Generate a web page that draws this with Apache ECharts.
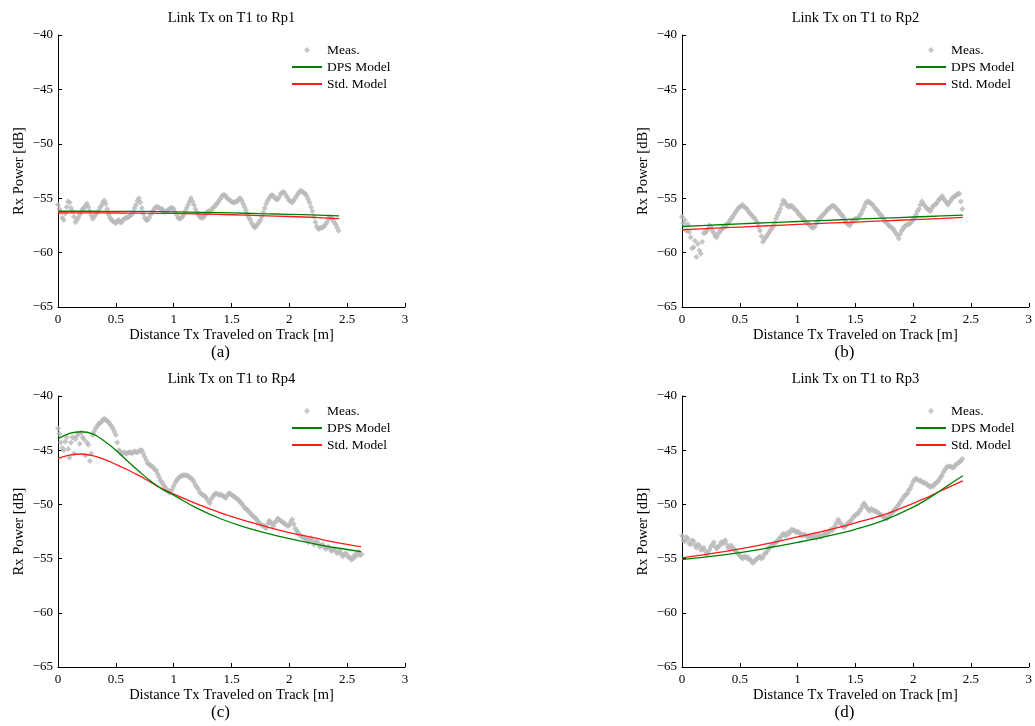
<!DOCTYPE html>
<html>
<head>
<meta charset="utf-8">
<script src="https://cdn.jsdelivr.net/npm/echarts@6/dist/echarts.min.js"></script>
<style>
html,body{margin:0;padding:0;background:#fff;}
#chart{width:1035px;height:726px;}
</style>
</head>
<body>
<div id="chart"></div>
<script>
// ---------------- DATA ----------------
const plotTitles = ['Link Tx on T1 to Rp1', 'Link Tx on T1 to Rp2', 'Link Tx on T1 to Rp4', 'Link Tx on T1 to Rp3'];
const captions = ['(a)', '(b)', '(c)', '(d)'];
const seriesNames = ['Meas.', 'DPS Model', 'Std. Model'];
const xAxisName = 'Distance Tx Traveled on Track [m]';
const yAxisName = 'Rx Power [dB]';
const xTickMin = 0, xTickMax = 3, xTickStep = 0.5;
const yTickMin = -65, yTickMax = -40, yTickStep = 5;

// measurement sample spacing along the track [m]; "Mid" arrays are the samples in between
const measStep = 0.025;

// (a) Rp1
const measA = [-55.6,-56.3,-57.0,-55.8,-55.4,-56.2,-57.2,-56.8,-56.3,-55.9,
  -55.5,-56.2,-56.9,-56.5,-56.2,-55.7,-55.2,-56.0,-56.8,-57.1,
  -57.3,-57.0,-57.2,-56.9,-56.8,-56.6,-56.3,-55.6,-55.0,-55.9,
  -56.8,-57.0,-56.5,-56.1,-55.8,-55.9,-56.0,-56.3,-56.1,-55.9,
  -56.0,-56.5,-56.9,-56.7,-56.2,-55.6,-55.0,-55.6,-56.3,-56.7,
  -56.8,-56.5,-56.2,-56.1,-55.8,-55.5,-55.1,-54.7,-54.8,-55.1,
  -55.3,-55.4,-55.3,-55.0,-55.5,-56.1,-56.8,-57.3,-57.7,-57.4,
  -57.0,-56.3,-55.5,-55.0,-54.7,-55.0,-55.1,-54.6,-54.4,-54.8,
  -55.2,-55.4,-55.0,-54.6,-54.3,-54.5,-54.8,-55.4,-56.2,-57.2,
  -57.8,-57.7,-57.6,-57.2,-56.7,-57.0,-57.4,-58.0];
const measAMid = [-56.0,-56.8,-56.4,-55.3,-55.9,-56.7,-57.0,-56.5,-56.0,-55.7,
  -55.8,-56.6,-56.7,-56.3,-55.9,-55.4,-55.5,-56.5,-57.0,-57.2,
  -57.1,-57.2,-57.0,-56.8,-56.7,-56.5,-55.9,-55.2,-55.4,-56.4,
  -57.0,-56.8,-56.3,-55.9,-55.8,-56.0,-56.2,-56.2,-56.0,-55.9,
  -56.3,-56.8,-56.8,-56.5,-55.9,-55.3,-55.3,-56.0,-56.5,-56.8,
  -56.7,-56.3,-56.2,-55.9,-55.6,-55.3,-54.9,-54.7,-55.0,-55.2,
  -55.4,-55.3,-55.1,-55.2,-55.8,-56.5,-57.0,-57.5,-57.6,-57.2,
  -56.7,-55.9,-55.2,-54.8,-54.8,-55.1,-54.9,-54.5,-54.6,-55.0,
  -55.3,-55.2,-54.8,-54.4,-54.4,-54.6,-55.1,-55.8,-56.7,-57.6,
  -57.8,-57.7,-57.4,-56.9,-56.8,-57.2,-57.7];
const modelXA = [0, 0.25, 0.5, 0.75, 1.0, 1.25, 1.5, 1.75, 2.0, 2.25, 2.43];
const dpsA = [-56.20,-56.20,-56.21,-56.22,-56.25,-56.30,-56.35,-56.42,-56.48,-56.55,-56.62];
const stdA = [-56.35,-56.35,-56.36,-56.38,-56.40,-56.45,-56.52,-56.60,-56.68,-56.78,-56.88];

// (b) Rp2
const measB = [-56.7,-57.0,-57.4,-58.6,-59.5,-60.4,-59.8,-59.0,-58.2,-57.8,
  -57.6,-58.2,-58.6,-58.1,-57.8,-57.6,-57.3,-56.9,-56.5,-56.1,
  -55.8,-55.6,-55.9,-56.2,-56.5,-56.8,-57.2,-58.0,-59.0,-58.6,
  -58.2,-57.8,-57.3,-56.6,-56.0,-55.2,-55.5,-55.8,-55.7,-56.0,
  -56.3,-56.6,-56.9,-57.2,-57.4,-57.7,-57.6,-57.1,-56.8,-56.5,
  -56.2,-55.9,-55.7,-55.8,-56.1,-56.5,-56.8,-57.3,-57.5,-57.1,
  -56.9,-56.8,-56.4,-55.8,-55.3,-55.4,-55.6,-56.0,-56.3,-56.6,
  -57.0,-57.3,-57.6,-57.8,-58.2,-58.7,-58.0,-57.6,-57.4,-57.3,
  -57.0,-56.5,-56.0,-55.3,-55.7,-56.0,-56.2,-55.7,-55.5,-55.1,
  -54.8,-55.2,-55.6,-55.2,-54.9,-54.7,-54.6,-56.0];
const measBMid = [-57.3,-58.0,-58.1,-59.6,-58.9,-59.2,-60.1,-58.2,-58.0,-57.5,
  -58.0,-58.5,-58.3,-57.9,-57.6,-57.4,-57.1,-56.7,-56.3,-55.9,
  -55.7,-55.8,-56.0,-56.4,-56.7,-57.0,-57.6,-58.5,-58.8,-58.4,
  -58.0,-57.6,-56.9,-56.3,-55.6,-55.3,-55.7,-55.7,-55.9,-56.1,
  -56.5,-56.8,-57.1,-57.3,-57.6,-57.7,-57.3,-56.9,-56.6,-56.3,
  -56.0,-55.8,-55.7,-56.0,-56.3,-56.6,-57.1,-57.4,-57.3,-57.0,
  -56.9,-56.6,-56.1,-55.5,-55.3,-55.5,-55.8,-56.1,-56.5,-56.8,
  -57.2,-57.5,-57.7,-58.0,-58.4,-58.3,-57.8,-57.5,-57.4,-57.1,
  -56.8,-56.2,-55.6,-55.5,-55.9,-56.1,-55.9,-55.6,-55.3,-55.0,
  -55.0,-55.4,-55.4,-55.0,-54.8,-54.6,-55.3];
const modelXB = [0, 0.25, 0.5, 0.75, 1.0, 1.25, 1.5, 1.75, 2.0, 2.25, 2.43];
const dpsB = [-57.60,-57.48,-57.36,-57.25,-57.14,-57.03,-56.93,-56.83,-56.73,-56.63,-56.55];
const stdB = [-57.90,-57.77,-57.65,-57.53,-57.41,-57.30,-57.19,-57.08,-56.97,-56.86,-56.76];

// (c) Rp4
const measC = [-43.0,-44.3,-45.0,-43.8,-45.7,-43.8,-44.0,-43.5,-43.4,-44.0,
  -44.3,-46.0,-43.6,-43.0,-42.6,-42.4,-42.1,-42.3,-42.6,-43.0,
  -43.6,-45.0,-45.3,-45.2,-45.3,-45.2,-45.2,-45.2,-45.1,-45.0,
  -45.6,-46.2,-46.4,-46.6,-46.9,-47.5,-48.0,-48.4,-48.7,-48.8,
  -48.3,-47.8,-47.5,-47.3,-47.3,-47.4,-47.6,-47.9,-48.4,-48.9,
  -49.1,-49.3,-49.7,-49.5,-49.1,-49.0,-49.1,-49.2,-49.4,-49.0,
  -49.1,-49.3,-49.5,-49.8,-50.1,-50.4,-50.7,-51.0,-51.2,-51.5,
  -51.8,-52.0,-52.2,-51.5,-51.8,-51.7,-51.3,-51.5,-51.7,-51.9,
  -51.9,-51.4,-52.2,-52.6,-52.9,-53.1,-53.2,-53.3,-53.3,-53.5,
  -53.6,-53.8,-53.9,-54.0,-54.0,-54.2,-54.3,-54.4,-54.6,-54.6,
  -54.7,-54.9,-55.0,-54.8,-54.4,-54.6];
const measCMid = [-43.5,-44.8,-44.2,-44.9,-44.3,-45.3,-43.7,-44.4,-43.8,-45.5,
  -44.5,-45.3,-43.3,-42.8,-42.5,-42.2,-42.2,-42.4,-42.8,-43.3,
  -44.3,-45.1,-45.3,-45.3,-45.2,-45.3,-45.1,-45.2,-45.0,-45.3,
  -45.9,-46.3,-46.5,-46.8,-47.2,-47.8,-48.2,-48.6,-48.9,-48.6,
  -48.0,-47.6,-47.4,-47.3,-47.3,-47.5,-47.7,-48.2,-48.6,-49.0,
  -49.2,-49.5,-49.9,-49.3,-49.0,-49.1,-49.1,-49.3,-49.2,-49.0,
  -49.2,-49.4,-49.6,-49.9,-50.3,-50.5,-50.8,-51.1,-51.3,-51.7,
  -51.9,-52.1,-51.8,-51.6,-52.0,-51.5,-51.4,-51.6,-51.8,-52.0,
  -51.6,-51.8,-52.4,-52.8,-53.0,-53.2,-53.5,-53.1,-53.7,-53.4,
  -53.9,-53.7,-54.1,-53.9,-54.3,-54.1,-54.5,-54.3,-54.8,-54.5,
  -54.9,-55.1,-54.7,-54.5,-54.7];
const modelXC = [0, 0.1, 0.2, 0.3, 0.4, 0.5, 0.6, 0.7, 0.8, 0.9, 1.0, 1.2, 1.4, 1.6, 1.8, 2.0, 2.2, 2.4, 2.62];
const dpsC = [-43.96,-43.45,-43.30,-43.50,-44.15,-45.00,-46.00,-46.95,-47.85,-48.60,-49.15,-50.35,-51.30,-52.05,-52.65,-53.15,-53.60,-54.00,-54.35];
const stdC = [-45.75,-45.45,-45.35,-45.50,-45.85,-46.30,-46.80,-47.35,-47.95,-48.55,-49.05,-49.95,-50.75,-51.45,-52.05,-52.60,-53.05,-53.50,-53.90];

// (d) Rp3
const measD = [-52.9,-53.4,-53.2,-53.7,-53.4,-54.0,-53.8,-54.1,-54.3,-54.5,
  -53.9,-53.5,-54.1,-53.8,-53.6,-53.3,-54.0,-53.8,-54.1,-54.4,
  -54.7,-55.0,-54.8,-54.9,-55.2,-55.3,-55.0,-54.8,-54.9,-54.5,
  -54.1,-53.8,-53.6,-53.4,-53.1,-52.7,-52.9,-52.7,-52.3,-52.4,
  -52.5,-52.7,-52.8,-52.9,-52.9,-53.1,-53.0,-52.9,-53.0,-52.8,
  -52.7,-52.5,-52.4,-52.0,-51.4,-51.8,-52.1,-51.9,-51.6,-51.3,
  -51.0,-50.8,-50.4,-49.9,-50.3,-50.6,-50.5,-50.6,-50.8,-51.0,
  -51.2,-51.3,-50.9,-50.7,-50.4,-50.0,-49.6,-49.2,-49.0,-48.5,
  -47.9,-47.6,-47.8,-47.9,-48.0,-48.2,-48.4,-48.3,-48.0,-47.7,
  -47.3,-46.8,-46.5,-46.5,-46.6,-46.3,-46.1,-45.8];
const measDMid = [-53.3,-53.0,-53.6,-53.3,-53.8,-53.7,-54.2,-54.0,-54.6,-54.2,
  -53.7,-53.9,-53.9,-53.5,-53.4,-53.7,-54.1,-54.0,-54.3,-54.6,
  -54.9,-54.8,-55.0,-55.1,-55.4,-55.1,-54.9,-55.0,-54.6,-54.3,
  -53.9,-53.7,-53.5,-53.2,-52.9,-52.8,-52.6,-52.5,-52.4,-52.6,
  -52.6,-52.9,-52.8,-53.0,-53.0,-52.8,-53.1,-52.8,-52.9,-52.6,
  -52.6,-52.3,-52.2,-51.7,-51.6,-52.0,-52.0,-51.7,-51.5,-51.1,
  -50.9,-50.6,-50.1,-50.1,-50.5,-50.4,-50.6,-50.7,-50.9,-51.1,
  -51.3,-51.1,-50.8,-50.5,-50.2,-49.8,-49.4,-49.1,-48.7,-48.2,
  -47.7,-47.7,-47.8,-48.0,-48.1,-48.3,-48.3,-48.1,-47.9,-47.5,
  -47.0,-46.6,-46.5,-46.6,-46.4,-46.2,-46.0];
const modelXD = [0, 0.25, 0.5, 0.75, 1.0, 1.25, 1.5, 1.75, 2.0, 2.1, 2.2, 2.3, 2.43];
const dpsD = [-55.10,-54.80,-54.45,-54.00,-53.50,-52.95,-52.30,-51.45,-50.25,-49.65,-48.98,-48.25,-47.35];
const stdD = [-54.93,-54.55,-54.10,-53.60,-53.00,-52.40,-51.70,-50.95,-49.90,-49.45,-48.95,-48.45,-47.83];

// ---------------- CHART ----------------
const panels = [
  {meas: measA, mid: measAMid, mx: modelXA, dps: dpsA, std: stdA},
  {meas: measB, mid: measBMid, mx: modelXB, dps: dpsB, std: stdB},
  {meas: measC, mid: measCMid, mx: modelXC, dps: dpsC, std: stdC},
  {meas: measD, mid: measDMid, mx: modelXD, dps: dpsD, std: stdD}
];
const FONT = '"Liberation Serif", "Times New Roman", serif';
const GRAY = '#b8b8b8', GREEN = '#008000', RED = '#ff1a1a';
const gridBoxes = [
  {left: 58, top: 35, width: 347, height: 272},
  {left: 682, top: 35, width: 347, height: 272},
  {left: 58, top: 396, width: 347, height: 271},
  {left: 682, top: 396, width: 347, height: 271}
];
const minus = v => String(v).replace('-', '\u2212');
// diamond centred inside a 30x6 box (invisible end points keep the box wide)
const diamondIcon = 'path://M0,3L0,3M30,3L30,3M12,3L15,0L18,3L15,6Z';

const option = {
  animation: false,
  backgroundColor: '#fff',
  textStyle: {fontFamily: FONT},
  grid: gridBoxes.map(g => Object.assign({containLabel: false}, g)),
  title: [],
  legend: [],
  xAxis: [],
  yAxis: [],
  series: []
};

gridBoxes.forEach((g, i) => {
  const p = panels[i];
  option.title.push({
    text: plotTitles[i], left: g.left + g.width / 2, top: g.top - 24.5, textAlign: 'center', padding: 0,
    textStyle: {fontFamily: FONT, fontSize: 14.5, fontWeight: 'normal', color: '#000'}
  });
  option.title.push({
    text: captions[i], left: g.left + g.width / 2 - 11, top: g.top + g.height + 37, textAlign: 'center', padding: 0,
    textStyle: {fontFamily: FONT, fontSize: 17, fontWeight: 'normal', color: '#000'}
  });
  option.legend.push({
    orient: 'vertical', left: g.left + 233, top: g.top + 8,
    itemWidth: 30, itemHeight: 6, itemGap: 3, padding: 0,
    selectedMode: false, symbolKeepAspect: true,
    textStyle: {fontFamily: FONT, fontSize: 13.5, color: '#000'},
    data: [
      {name: seriesNames[0], icon: diamondIcon, itemStyle: {color: GRAY}},
      {name: seriesNames[1], itemStyle: {color: 'rgba(0,0,0,0)', borderWidth: 0}},
      {name: seriesNames[2], itemStyle: {color: 'rgba(0,0,0,0)', borderWidth: 0}}
    ]
  });
  option.xAxis.push({
    type: 'value', gridIndex: i, min: xTickMin, max: xTickMax, interval: xTickStep,
    name: xAxisName, nameLocation: 'middle', nameGap: 21,
    nameTextStyle: {fontFamily: FONT, fontSize: 14.5, color: '#000'},
    axisLine: {show: true, onZero: false, lineStyle: {color: '#000', width: 1}},
    axisTick: {show: true, inside: true, length: 4, lineStyle: {color: '#000'}},
    axisLabel: {fontFamily: FONT, fontSize: 13, color: '#000', margin: 6},
    splitLine: {show: false}
  });
  option.yAxis.push({
    type: 'value', gridIndex: i, min: yTickMin, max: yTickMax, interval: yTickStep,
    name: yAxisName, nameLocation: 'middle', nameGap: 31,
    nameTextStyle: {fontFamily: FONT, fontSize: 14.5, color: '#000'},
    axisLine: {show: true, onZero: false, lineStyle: {color: '#000', width: 1}},
    axisTick: {show: true, inside: true, length: 4, lineStyle: {color: '#000'}},
    axisLabel: {fontFamily: FONT, fontSize: 13, color: '#000', margin: 5, formatter: minus},
    splitLine: {show: false}
  });
  const pts = p.meas.map((v, k) => [k * measStep, v])
    .concat(p.mid.map((v, k) => [(k + 0.5) * measStep, v]));
  option.series.push({
    name: seriesNames[0], type: 'scatter', xAxisIndex: i, yAxisIndex: i,
    symbol: 'diamond', symbolSize: 6, itemStyle: {color: GRAY}, z: 2,
    data: pts
  });
  option.series.push({
    name: seriesNames[1], type: 'line', xAxisIndex: i, yAxisIndex: i,
    symbol: 'none', smooth: 0.4, lineStyle: {color: GREEN, width: 1.3}, itemStyle: {color: GREEN}, z: 4,
    data: p.mx.map((x, k) => [x, p.dps[k]])
  });
  option.series.push({
    name: seriesNames[2], type: 'line', xAxisIndex: i, yAxisIndex: i,
    symbol: 'none', smooth: 0.4, lineStyle: {color: RED, width: 1.3}, itemStyle: {color: RED}, z: 3,
    data: p.mx.map((x, k) => [x, p.std[k]])
  });
});

const chart = echarts.init(document.getElementById('chart'), null, {renderer: 'canvas'});
chart.setOption(option);
</script>
</body>
</html>
